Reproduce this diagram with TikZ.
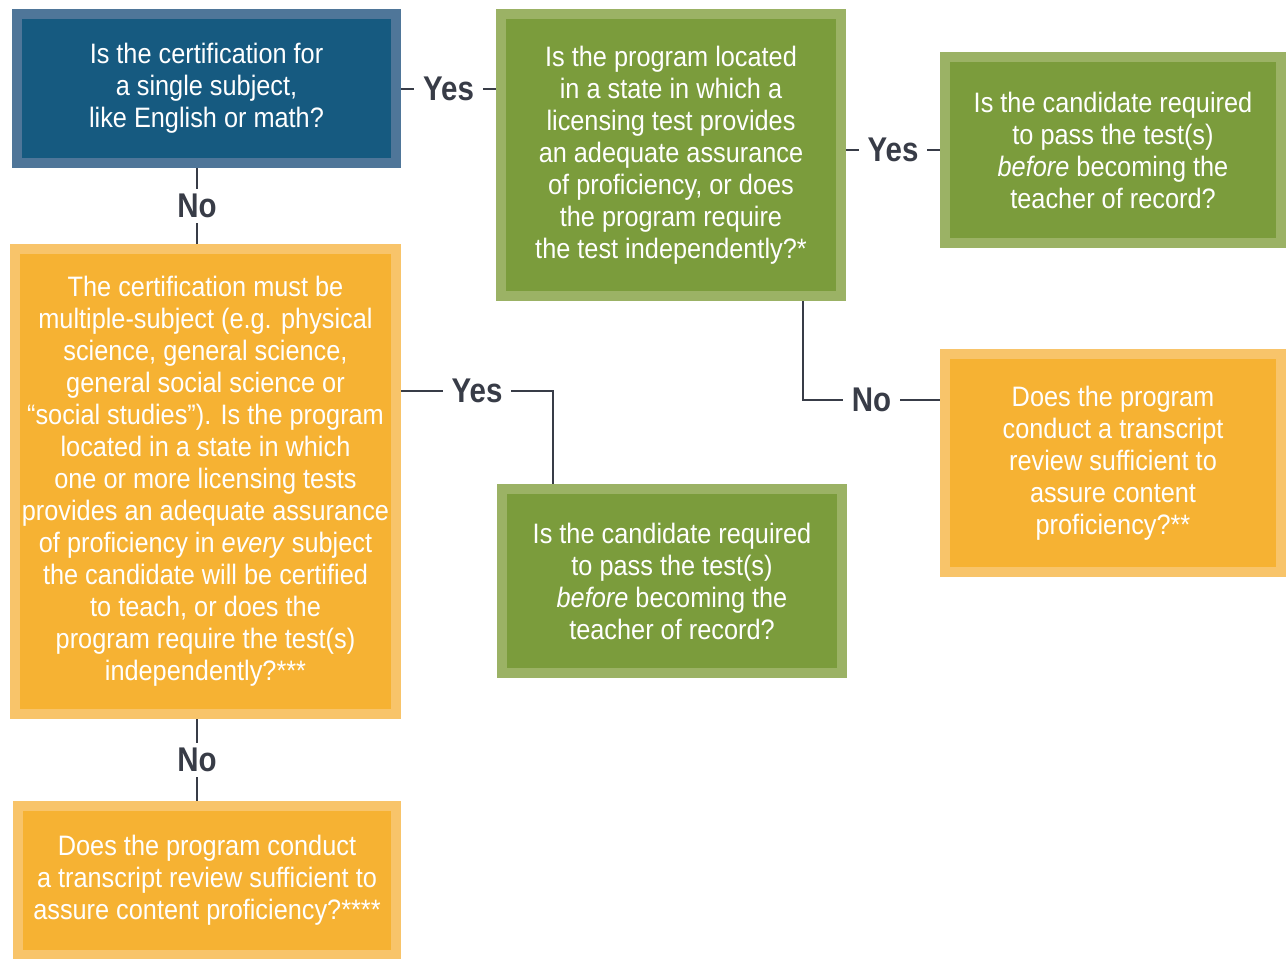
\documentclass[tikz,border=0pt]{standalone}
\usepackage{fontspec}
\setmainfont{Liberation Sans}[FakeStretch=0.9]
\newfontfamily\lblfont{Liberation Sans}[FakeStretch=0.86]
\usetikzlibrary{positioning,calc}
\definecolor{bluein}{HTML}{165A80}
\definecolor{blueout}{HTML}{4F7699}
\definecolor{greenin}{HTML}{7B9C3C}
\definecolor{greenout}{HTML}{9BB265}
\definecolor{orangein}{HTML}{F6B233}
\definecolor{orangeout}{HTML}{F8C46A}
\definecolor{linec}{HTML}{383C47}

\begin{document}
\begin{tikzpicture}[
    box/.style={draw, line width=0.2cm, text=white, align=center, inner sep=0pt,
      font=\fontsize{16}{18.2}\selectfont},
    bluebox/.style={box, fill=bluein, draw=blueout},
    greenbox/.style={box, fill=greenin, draw=greenout},
    orangebox/.style={box, fill=orangein, draw=orangeout},
    link/.style={draw=linec, line width=0.04cm},
    lbl/.style={fill=white, text=linec, inner xsep=5pt, inner ysep=3pt,
      font=\lblfont\bfseries\fontsize{19.5}{20}\selectfont}
  ]
    \useasboundingbox (0,0) rectangle (25.72,-19.16);

    % question boxes
    \node[bluebox, minimum width=7.58cm, minimum height=2.98cm] (single) at (4.13,-1.77)
      {Is the certification for\\ a single subject,\\ like English or math?};
    \node[greenbox, minimum width=6.8cm, minimum height=5.64cm] (located) at (13.42,-3.10)
      {Is the program located\\ in a state in which a\\ licensing test provides\\ an adequate assurance\\ of proficiency, or does\\ the program require\\ the test independently?*};
    \node[greenbox, minimum width=6.72cm, minimum height=3.72cm] (passa) at (22.26,-3.00)
      {Is the candidate required\\ to pass the test(s)\\ \textit{before} becoming the\\ teacher of record?};
    \node[orangebox, minimum width=7.62cm, minimum height=9.30cm] (multi) at (4.11,-9.63)
      {The certification must be\\ multiple-subject (e.g. physical\\ science, general science,\\ general social science or\\ “social studies”). Is the program\\ located in a state in which\\ one or more licensing tests\\ provides an adequate assurance\\ of proficiency in \textit{every} subject\\ the candidate will be certified\\ to teach, or does the\\ program require the test(s)\\ independently?***};
    \node[orangebox, minimum width=6.72cm, minimum height=4.36cm] (reviewa) at (22.26,-9.26)
      {Does the program\\ conduct a transcript\\ review sufficient to\\ assure content\\ proficiency?**};
    \node[greenbox, minimum width=6.8cm, minimum height=3.68cm] (passb) at (13.44,-11.62)
      {Is the candidate required\\ to pass the test(s)\\ \textit{before} becoming the\\ teacher of record?};
    \node[orangebox, minimum width=7.56cm, minimum height=2.98cm] (reviewb) at (4.14,-17.61)
      {Does the program conduct\\ a transcript review sufficient to\\ assure content proficiency?****};

    % bends and the left spine
    \node[coordinate] (spine) at (3.94,0) {};
    \node[coordinate] (nobend) at (16.06,-8.00) {};
    \node[coordinate] (yesbend) at (11.06,-7.82) {};

    % connectors
    \draw[link] (single.east) -- node[lbl] {Yes} (single.east -| located.west);
    \draw[link] (single.south -| spine) -- node[lbl] {No} (multi.north -| spine);
    \draw[link] (passa.west -| located.east) -- node[lbl] {Yes} (passa.west);
    \draw[link] (located.south -| nobend) -- (nobend) -- node[lbl] {No} (nobend -| reviewa.west);
    \draw[link] (multi.east |- yesbend) -- node[lbl] {Yes} (yesbend) -- (yesbend |- passb.north);
    \draw[link] (multi.south -| spine) -- node[lbl] {No} (reviewb.north -| spine);
  \end{tikzpicture}
\end{document}
